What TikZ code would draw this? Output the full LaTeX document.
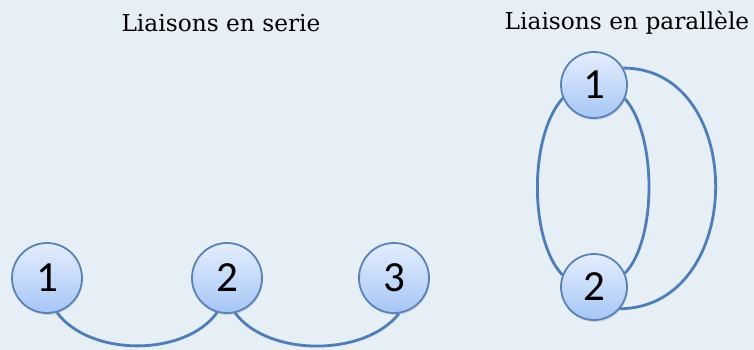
\documentclass[tikz,border=0pt]{standalone}
\usepackage{fontspec}
\setmainfont{DejaVu Serif}
\newfontfamily\numfont{Carlito}
\usetikzlibrary{shadows}
\definecolor{bgcol}{HTML}{E6EEF6}
\definecolor{linkcol}{HTML}{4F7DB8}
\definecolor{rimcol}{HTML}{5A82B5}
\definecolor{balltop}{HTML}{E4EEFD}
\definecolor{ballbot}{HTML}{A6C6F6}
\tikzset{
  ball/.style={circle, minimum size=#1, inner sep=0pt, draw=rimcol, line width=1.8pt,
    top color=balltop, bottom color=ballbot,
    drop shadow={opacity=0.22, shadow xshift=0.8pt, shadow yshift=-2pt},
    font=\numfont\fontsize{43}{43}\selectfont},
  ball/.default=70pt,
  link/.style={draw=linkcol, line width=2.8pt},
  heading/.style={font=\fontsize{23.3}{26}\selectfont, inner sep=0pt}
}
\begin{document}
\begin{tikzpicture}[x=1pt, y=-1pt]
  \fill[bgcol] (0,0) rectangle (754,350);
  \useasboundingbox (0,0) rectangle (754,350);

  % headings
  \node[heading] (tserie) at (221,23) {Liaisons en serie};
  \node[heading] (tpar) at (627,23) {Liaisons en parallèle};

  % series chain
  \node[ball] (s1) at (47,278) {1};
  \node[ball] (s2) at (227,278) {2};
  \node[ball] (s3) at (394,278) {3};
  \draw[link] (s1.-74) .. controls (90,357) and (185,357) .. (s2.-106);
  \draw[link] (s2.-77) .. controls (268,357) and (365,357) .. (s3.-82);

  % parallel pair
  \node[ball=66pt] (p1) at (594,85) {1};
  \node[ball=66pt] (p2) at (594,287) {2};
  \draw[link] (p1.203) .. controls (529,135) and (529,240) .. (p2.159);
  \draw[link] (p1.-24) .. controls (657,135) and (657,240) .. (p2.24);
  \draw[link] (p1.30) .. controls (747,68) and (747,307) .. (p2.-40);
\end{tikzpicture}
\end{document}
